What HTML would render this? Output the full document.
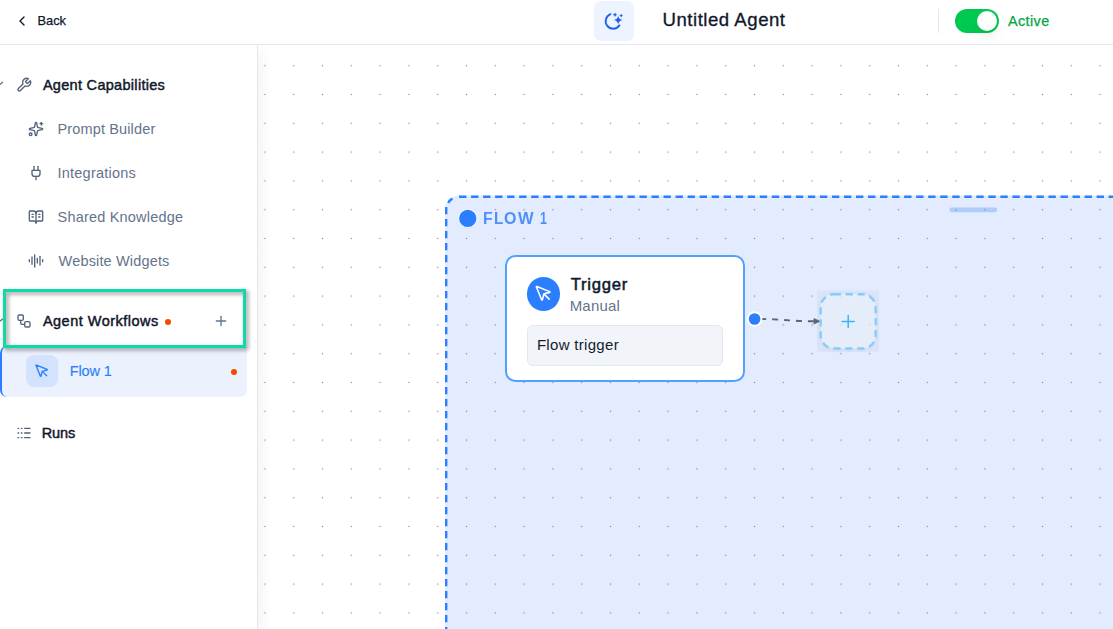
<!DOCTYPE html>
<html><head><meta charset="utf-8"><title>Untitled Agent</title>
<style>
*{box-sizing:border-box;margin:0;padding:0}
html,body{width:1113px;height:629px;overflow:hidden;background:#fff;font-family:"Liberation Sans",sans-serif}
.a{position:absolute}
.t{position:absolute;white-space:nowrap;line-height:20px;font-family:"Liberation Sans",sans-serif}
svg.i{position:absolute;fill:none;stroke-linecap:round;stroke-linejoin:round}
#hdr{left:0;top:0;width:1113px;height:45px;border-bottom:1px solid #e2e8f0;background:#fff}
#side{left:0;top:45px;width:258px;height:584px;border-right:1px solid #e2e8f0;background:#fff;z-index:2}
#cv{left:258px;top:45px;width:855px;height:584px;overflow:hidden;background:#fff}
.dark{color:#0f172a}
.gray{color:#64748b}
.sb{-webkit-text-stroke:0.45px #0f172a}
.fl{top:208.1px;font-size:17.2px;font-weight:700;color:#4f90f8;transform-origin:0 0}
</style></head><body>

<!-- HEADER -->
<div id="hdr" class="a">
  <svg class="i" style="left:14px;top:13px" width="16" height="16" viewBox="0 0 24 24" stroke="#0f172a" stroke-width="2"><path d="m15 18-6-6 6-6"/></svg>
  <div class="t dark" style="left:37.6px;top:11px;font-size:12.8px;letter-spacing:-0.05px;-webkit-text-stroke:0.25px #0f172a">Back</div>

  <div class="a" style="left:594px;top:1px;width:40px;height:40px;border-radius:7px;background:#eef4ff"></div>
  <svg class="a" style="left:594px;top:1px" width="40" height="40" viewBox="594 1 40 40">
    <path d="M610.5 14.2 A7.5 7.5 0 1 0 619.4 25.4" fill="none" stroke="#2563eb" stroke-width="1.9" stroke-linecap="round"/>
    <path d="M618.2 15.700000000000001 Q618.90 19.40 622.6 20.1 Q618.90 20.80 618.2 24.5 Q617.50 20.80 613.8000000000001 20.1 Q617.50 19.40 618.2 15.700000000000001Z" fill="#2563eb"/>
    <path d="M615 12.5 Q615.51 14.29 617.3 14.8 Q615.51 15.31 615 17.1 Q614.49 15.31 612.7 14.8 Q614.49 14.29 615 12.5Z" fill="#2563eb"/>
    <path d="M621.2 13.7 Q621.68 15.12 623.1 15.6 Q621.68 16.07 621.2 17.5 Q620.73 16.07 619.3000000000001 15.6 Q620.73 15.12 621.2 13.7Z" fill="#2563eb"/>
  </svg>
  <div class="t dark" style="left:662.5px;top:9.8px;font-size:18.6px;letter-spacing:0.52px;-webkit-text-stroke:0.3px #0f172a">Untitled Agent</div>

  <div class="a" style="left:938px;top:9px;width:1px;height:24px;background:#e2e8f0"></div>
  <div class="a" style="left:955px;top:9px;width:44px;height:24px;border-radius:12px;background:#00c950"></div>
  <div class="a" style="left:977px;top:11px;width:20px;height:20px;border-radius:10px;background:#fff;box-shadow:0 10px 15px -3px rgba(0,0,0,.1),0 4px 6px -4px rgba(0,0,0,.1)"></div>
  <div class="t" style="left:1008px;top:10.7px;font-size:14.4px;letter-spacing:0.4px;color:#00a63e;-webkit-text-stroke:0.25px #00a63e">Active</div>
</div>

<!-- SIDEBAR -->
<div id="side" class="a"></div>
<div class="a" style="left:258px;top:45px;width:14px;height:584px;z-index:2;background:linear-gradient(to right,rgba(15,23,42,.035),rgba(15,23,42,0));-webkit-mask-image:linear-gradient(to bottom,transparent 0,#000 14px)"></div>
<div class="a" id="sidec" style="left:0;top:0;width:258px;height:629px;z-index:3">
  <!-- left chevron stubs -->
  <svg class="a" style="left:0;top:78px" width="6" height="12" viewBox="0 78 6 12"><path d="M-1.5 85.6 L2.6 82.3" stroke="#64748b" stroke-width="1.3" stroke-linecap="round" fill="none"/></svg>
  <svg class="a" style="left:0;top:314px" width="6" height="12" viewBox="0 314 6 12"><path d="M-1.5 322.4 L2.6 319.1" stroke="#64748b" stroke-width="1.3" stroke-linecap="round" fill="none"/></svg>

  <svg class="i" style="left:16px;top:77px" width="16" height="16" viewBox="0 0 24 24" stroke="#536279" stroke-width="2"><path d="M14.7 6.3a1 1 0 0 0 0 1.4l1.6 1.6a1 1 0 0 0 1.4 0l3.77-3.77a6 6 0 0 1-7.94 7.94l-6.91 6.91a2.12 2.12 0 0 1-3-3l6.91-6.91a6 6 0 0 1 7.94-7.94l-3.76 3.76z"/></svg>
  <div class="t dark sb" style="left:42.9px;top:74.9px;font-size:14.5px;letter-spacing:0.3px">Agent Capabilities</div>

  <svg class="i" style="left:28px;top:121px" width="16" height="16" viewBox="0 0 24 24" stroke="#536279" stroke-width="2"><path d="M11.017 2.814a1 1 0 0 1 1.966 0l1.051 5.558a2 2 0 0 0 1.594 1.594l5.558 1.051a1 1 0 0 1 0 1.966l-5.558 1.051a2 2 0 0 0-1.594 1.594l-1.051 5.558a1 1 0 0 1-1.966 0l-1.051-5.558a2 2 0 0 0-1.594-1.594l-5.558-1.051a1 1 0 0 1 0-1.966l5.558-1.051a2 2 0 0 0 1.594-1.594z"/><path d="M20 2v4"/><path d="M22 4h-4"/><circle cx="4" cy="20" r="2"/></svg>
  <div class="t gray" style="left:57.5px;top:119px;font-size:14.5px;letter-spacing:0.14px">Prompt Builder</div>

  <svg class="i" style="left:28px;top:165px" width="16" height="16" viewBox="0 0 24 24" stroke="#536279" stroke-width="2"><path d="M12 22v-5"/><path d="M9 8V2"/><path d="M15 8V2"/><path d="M18 8v5a4 4 0 0 1-4 4h-4a4 4 0 0 1-4-4V8Z"/></svg>
  <div class="t gray" style="left:57.6px;top:162.9px;font-size:14.5px;letter-spacing:0.21px">Integrations</div>

  <svg class="i" style="left:28px;top:209px" width="16" height="16" viewBox="0 0 24 24" stroke="#536279" stroke-width="2"><path d="M12 7v14"/><path d="M16 12h2"/><path d="M16 8h2"/><path d="M3 18a1 1 0 0 1-1-1V4a1 1 0 0 1 1-1h5a4 4 0 0 1 4 4 4 4 0 0 1 4-4h5a1 1 0 0 1 1 1v13a1 1 0 0 1-1 1h-6a3 3 0 0 0-3 3 3 3 0 0 0-3-3z"/><path d="M6 12h2"/><path d="M6 8h2"/></svg>
  <div class="t gray" style="left:57.6px;top:206.6px;font-size:14.5px;letter-spacing:0.19px">Shared Knowledge</div>

  <svg class="i" style="left:28px;top:253px" width="16" height="16" viewBox="0 0 24 24" stroke="#536279" stroke-width="2"><path d="M2 10v3"/><path d="M6 6v11"/><path d="M10 3v18"/><path d="M14 8v7"/><path d="M18 5v13"/><path d="M22 10v3"/></svg>
  <div class="t gray" style="left:58.6px;top:250.8px;font-size:14.5px;letter-spacing:0.16px">Website Widgets</div>

  <!-- Flow 1 item -->
  <div class="a" style="left:0;top:346px;width:247px;height:51px;border-radius:7px;background:#ebf2fe;border-left:2px solid #2b7fff"></div>
  <div class="a" style="left:26px;top:355px;width:32px;height:32px;border-radius:8px;background:#d3e2fd"></div>
  <svg class="i" style="left:34px;top:363px" width="16" height="16" viewBox="0 0 24 24" stroke="#2b7fff" stroke-width="2"><path d="M12.586 12.586 19 19"/><path d="M3.688 3.037a.497.497 0 0 0-.651.651l6.5 15.999a.501.501 0 0 0 .947-.062l1.569-6.083a2 2 0 0 1 1.448-1.479l6.124-1.579a.5.5 0 0 0 .063-.947z"/></svg>
  <div class="t" style="left:69.7px;top:360.6px;font-size:14.5px;letter-spacing:-0.14px;color:#2b7fff;-webkit-text-stroke:0.15px #2b7fff">Flow 1</div>
  <div class="a" style="left:231px;top:369px;width:6px;height:6px;border-radius:3px;background:#f54900"></div>

  <!-- Agent Workflows -->
  <svg class="i" style="left:16px;top:313px" width="16" height="16" viewBox="0 0 24 24" stroke="#536279" stroke-width="2"><rect width="8" height="8" x="3" y="3" rx="2"/><path d="M7 11v4a2 2 0 0 0 2 2h4"/><rect width="8" height="8" x="13" y="13" rx="2"/></svg>
  <div class="t dark sb" style="left:42.9px;top:310.9px;font-size:14.5px;letter-spacing:0.49px">Agent Workflows</div>
  <div class="a" style="left:165px;top:319px;width:6px;height:6px;border-radius:3px;background:#f54900"></div>
  <svg class="i" style="left:213px;top:313px" width="16" height="16" viewBox="0 0 24 24" stroke="#64748b" stroke-width="2"><path d="M5 12h14"/><path d="M12 5v14"/></svg>

  <!-- highlight box -->
  <div class="a" style="left:3px;top:289px;width:243px;height:59px;border:3px solid #10d9a9;filter:drop-shadow(2.5px 2.5px 2px rgba(0,0,0,.45))"></div>

  <!-- Runs -->
  <svg class="i" style="left:16px;top:425px" width="16" height="16" viewBox="0 0 24 24" stroke="#536279" stroke-width="2"><path d="M13 12h8"/><path d="M13 19h8"/><path d="M13 5h8"/><path d="M3 12h1"/><path d="M3 19h1"/><path d="M3 5h1"/><path d="M8 12h1"/><path d="M8 19h1"/><path d="M8 5h1"/></svg>
  <div class="t dark sb" style="left:41.7px;top:422.9px;font-size:14.5px;letter-spacing:-0.07px">Runs</div>
</div>

<!-- CANVAS -->
<div id="cv" class="a"><div class="a" style="left:-258px;top:-45px;width:1113px;height:629px">
  <svg class="a" style="left:0;top:0" width="1113" height="629">
    <defs><pattern id="dots" x="250.5" y="51.3" width="28.8" height="28.8" patternUnits="userSpaceOnUse"><circle cx="14.4" cy="14.4" r="0.75" fill="#91919a"/></pattern></defs>
    <rect x="0" y="0" width="1113" height="629" fill="url(#dots)"/>
  </svg>
  <!-- group -->
  <svg class="a" style="left:0;top:0" width="1113" height="629">
    <rect x="445" y="195.4" width="1056" height="800" rx="14.4" fill="rgba(59,130,246,0.15)"/>
    <path d="M459 196.7 H1120" stroke="#2b7fff" stroke-width="2.4" stroke-dasharray="7.4 4.63" fill="none"/>
    <path d="M446.2 207 V640" stroke="#2b7fff" stroke-width="2.4" stroke-dasharray="7.2 4.8" fill="none"/>
    <path d="M448.2 202.8 A13.2 13.2 0 0 1 452.4 198.6" stroke="#2b7fff" stroke-width="2.4" fill="none"/>
    <rect x="949.2" y="207.4" width="48" height="4.8" rx="2.4" fill="rgba(59,130,246,0.3)"/>
    <circle cx="467.75" cy="218.4" r="9.2" fill="#2b7fff" stroke="rgba(255,255,255,.85)" stroke-width="1.2"/>
  </svg>
    <div class="t fl" style="left:483.3px;transform:scaleX(0.92)">F</div>
  <div class="t fl" style="left:493.7px;transform:scaleX(0.89)">L</div>
  <div class="t fl" style="left:504.0px;transform:scaleX(0.93)">O</div>
  <div class="t fl" style="left:518.0px;transform:scaleX(0.96)">W</div>
  <div class="t fl" style="left:539.9px;transform:scaleX(0.72)">1</div>

  <!-- trigger node -->
  <div class="a" style="left:505px;top:255.3px;width:239.6px;height:126.7px;border:2.5px solid #51a2ff;border-radius:10.5px;background:#fff"></div>
  <div class="a" style="left:526.6px;top:277.1px;width:33.8px;height:33.8px;border-radius:50%;background:#2b7fff"></div>
  <svg class="i" style="left:533.9px;top:284.2px" width="19.2" height="19.2" viewBox="0 0 24 24" stroke="#fff" stroke-width="2"><path d="M12.586 12.586 19 19"/><path d="M3.688 3.037a.497.497 0 0 0-.651.651l6.5 15.999a.501.501 0 0 0 .947-.062l1.569-6.083a2 2 0 0 1 1.448-1.479l6.124-1.579a.5.5 0 0 0 .063-.947z"/></svg>
  <div class="t dark" style="left:570.7px;top:274.6px;font-size:16.7px;letter-spacing:0.73px;-webkit-text-stroke:0.5px #0f172a">Trigger</div>
  <div class="t gray" style="left:569.7px;top:296px;font-size:15px;letter-spacing:0.18px">Manual</div>
  <div class="a" style="left:527.1px;top:325px;width:196px;height:40.6px;border:1.2px solid #e2e8f0;border-radius:6px;background:#f1f5f9"></div>
  <div class="t" style="left:536.9px;top:335px;font-size:15px;letter-spacing:0.31px;color:#141c2e">Flow trigger</div>

  <!-- handle + edge + add -->
  <svg class="a" style="left:0;top:0" width="1113" height="629">
    <rect x="817" y="290.5" width="62" height="61.6" fill="rgba(30,41,59,0.035)"/>
    <path d="M754.6 319 C 785 319, 790 321.3, 815 321.3" fill="none" stroke="#5f6675" stroke-width="1.9" stroke-dasharray="6 6" stroke-dashoffset="6.5"/>
    <path d="M813.6 317.9 L821 321.3 L813.6 324.6 Z" fill="#5f6675"/>
    <circle cx="754.6" cy="319" r="6.8" fill="#2b7fff" stroke="#fff" stroke-width="1.9"/>
    <rect x="820.7" y="294.3" width="55" height="54.2" rx="13" fill="rgba(236,243,255,0.7)" stroke="#86cdfb" stroke-width="2.4" stroke-dasharray="7.2 4.8" style="filter:drop-shadow(0 1px 1.5px rgba(15,23,42,.06))"/>
    <path d="M848.2 315.4 V327.4 M842.2 321.4 H854.2" stroke="#38b6f5" stroke-width="1.5" stroke-linecap="round"/>
  </svg>
</div></div>

</body></html>
